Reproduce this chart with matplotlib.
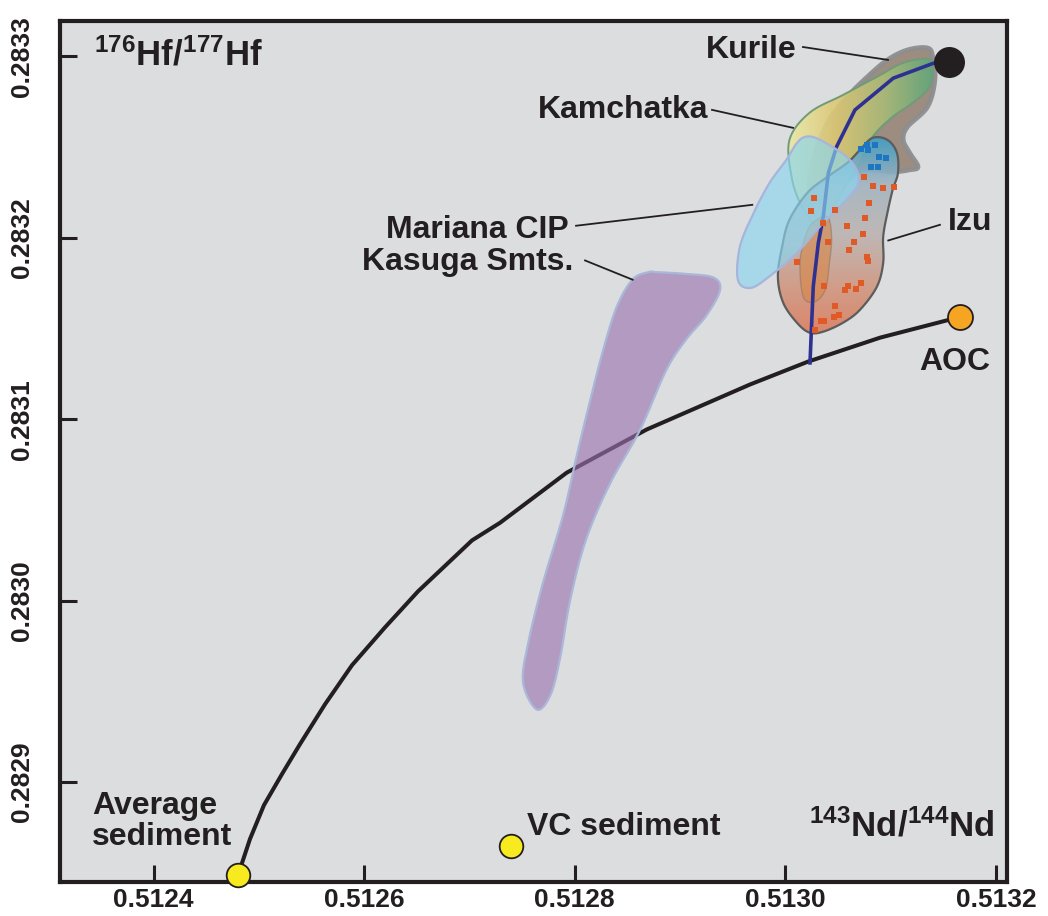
import numpy as np
import matplotlib
matplotlib.use("Agg")
import matplotlib.pyplot as plt
from matplotlib.patches import Polygon
from matplotlib.colors import LinearSegmentedColormap

# ---- data (143Nd/144Nd vs 176Hf/177Hf) ----
mixing_nd = [0.5124803, 0.5124916, 0.5125049, 0.5125220, 0.5125391, 0.5125629, 0.5125885,
             0.5126199, 0.5126512, 0.5127025, 0.5127291, 0.5127924, 0.5128684, 0.5129665,
             0.5130216, 0.5130900, 0.5131659]
mixing_hf = [0.2828488, 0.2828686, 0.2828873, 0.2829044, 0.2829209, 0.2829429, 0.2829644,
             0.2829853, 0.2830051, 0.2830332, 0.2830429, 0.2830705, 0.2830943, 0.2831191,
             0.2831317, 0.2831449, 0.2831563]

slab_nd = [0.5130235, 0.5130251, 0.5130266, 0.5130314, 0.5130361, 0.5130409, 0.5130488,
           0.5130662, 0.5131026, 0.5131406, 0.5131555]
slab_hf = [0.2831310, 0.2831532, 0.2831732, 0.2831971, 0.2832117, 0.2832356, 0.2832502,
           0.2832704, 0.2832879, 0.2832961, 0.2832968]

end_members = ["Average sediment", "VC sediment", "AOC", "Kurile"]
end_nd = [0.512480, 0.5127395, 0.513166, 0.5131555]
end_hf = [0.2828488, 0.2828648, 0.2831563, 0.2832968]

kasuga_nd = [0.512870, 0.512855, 0.512840, 0.512827, 0.512815, 0.512802, 0.512789, 0.512770,
             0.512756, 0.512751, 0.512764, 0.512777, 0.512786, 0.512796, 0.512811, 0.512834,
             0.512862, 0.512887, 0.512906, 0.512925, 0.512938, 0.512932, 0.512906, 0.512878]
kasuga_hf = [0.283181, 0.283177, 0.283162, 0.283138, 0.283111, 0.283080, 0.283047, 0.283010,
             0.282977, 0.282955, 0.282940, 0.282948, 0.282968, 0.283001, 0.283034, 0.283065,
             0.283094, 0.283127, 0.283144, 0.283157, 0.283171, 0.283178, 0.283180, 0.283181]

mariana_nd = [0.513020, 0.513033, 0.513058, 0.513069, 0.513068, 0.513055, 0.513033, 0.513011,
              0.512985, 0.512967, 0.512955, 0.512957, 0.512970, 0.512985, 0.513001, 0.513011]
mariana_hf = [0.2832557, 0.2832539, 0.2832447, 0.2832356, 0.2832282, 0.2832191, 0.2832062,
              0.2831916, 0.2831787, 0.2831723, 0.2831768, 0.2831952, 0.2832136, 0.2832301,
              0.2832429, 0.2832521]

kamchatka_nd = [0.513004, 0.513023, 0.513055, 0.513087, 0.513112, 0.513135, 0.513140, 0.513137,
                0.513121, 0.513102, 0.513083, 0.513071, 0.513055, 0.513042, 0.513036, 0.513026,
                0.513014, 0.513006]
kamchatka_hf = [0.2832539, 0.2832688, 0.2832787, 0.2832886, 0.2832963, 0.2832985, 0.2832941,
                0.2832831, 0.2832743, 0.2832666, 0.2832556, 0.2832413, 0.2832264, 0.2832115,
                0.2832055, 0.2832082, 0.2832192, 0.2832335]

kurile_nd = [0.513097, 0.513116, 0.513135, 0.513140, 0.513142, 0.513135, 0.513116, 0.513112,
             0.513118, 0.513126, 0.513118, 0.513102, 0.513083, 0.513068, 0.513045, 0.513030,
             0.513023, 0.513026, 0.513040, 0.513059, 0.513078]
kurile_hf = [0.2832979, 0.2833034, 0.2833045, 0.2832996, 0.2832869, 0.2832721, 0.2832611,
             0.2832539, 0.2832468, 0.2832391, 0.2832374, 0.2832363, 0.2832374, 0.2832357,
             0.2832225, 0.2832115, 0.2832225, 0.2832413, 0.2832633, 0.2832776, 0.2832886]

izu_nd = [0.513083, 0.513097, 0.513106, 0.513107, 0.513102, 0.513097, 0.513093, 0.513093,
          0.513087, 0.513071, 0.513055, 0.513036, 0.513023, 0.513011, 0.512998, 0.512993,
          0.512997, 0.513004, 0.513021, 0.513040, 0.513059, 0.513071]
izu_hf = [0.2832550, 0.2832539, 0.2832468, 0.2832356, 0.2832264, 0.2832137, 0.2832005, 0.2831862,
          0.2831730, 0.2831603, 0.2831532, 0.2831482, 0.2831477, 0.2831532, 0.2831642, 0.2831785,
          0.2831950, 0.2832099, 0.2832247, 0.2832335, 0.2832413, 0.2832484]

lobe_nd = [0.513026, 0.513040, 0.513044, 0.513042, 0.513038, 0.513028, 0.513017, 0.513014, 0.513019]
lobe_hf = [0.2832082, 0.2832115, 0.2832005, 0.2831862, 0.2831714, 0.2831647, 0.2831675,
           0.2831862, 0.2832005]

izu_blue_nd = [0.5130716, 0.5130779, 0.5130852, 0.5130789, 0.5130890, 0.5130957, 0.5130811, 0.5130883]
izu_blue_hf = [0.2832488, 0.2832512, 0.2832508, 0.2832484, 0.2832442, 0.2832438, 0.2832392, 0.2832389]

izu_red_nd = [0.5130748, 0.5130836, 0.5130931, 0.5131033, 0.5130273, 0.5130241, 0.5130469,
              0.5130798, 0.5130355, 0.5130754, 0.5130583, 0.5130735, 0.5130653, 0.5130403,
              0.5130608, 0.5130773, 0.5130789, 0.5130109, 0.5130371, 0.5130593, 0.5130570,
              0.5130672, 0.5130716, 0.5130475, 0.5130510, 0.5130460, 0.5130339, 0.5130368,
              0.5130282]
izu_red_hf = [0.2832337, 0.2832286, 0.2832273, 0.2832282, 0.2832218, 0.2832148, 0.2832154,
              0.2832191, 0.2832081, 0.2832106, 0.2832062, 0.2832022, 0.2831978, 0.2831978,
              0.2831934, 0.2831893, 0.2831869, 0.2831864, 0.2831732, 0.2831736, 0.2831714,
              0.2831719, 0.2831750, 0.2831625, 0.2831572, 0.2831563, 0.2831543, 0.2831543,
              0.2831493]

x_ticks = [0.5124, 0.5126, 0.5128, 0.5130, 0.5132]
y_ticks = [0.2829, 0.2830, 0.2831, 0.2832, 0.2833]

INK = "#231f20"
FONT = ["Liberation Sans", "DejaVu Sans"]
plt.rcParams["font.family"] = FONT
plt.rcParams["mathtext.fontset"] = "custom"
plt.rcParams["mathtext.rm"] = "Liberation Sans:bold"
plt.rcParams["mathtext.bf"] = "Liberation Sans:bold"
plt.rcParams["mathtext.it"] = "Liberation Sans:bold"


def smooth_closed(xs, ys, n=16):
    # closed Catmull-Rom outline through the read points
    p = np.column_stack([xs, ys])
    m = len(p)
    t = np.linspace(0, 1, n, endpoint=False)[:, None]
    segs = []
    for i in range(m):
        p0, p1, p2, p3 = p[i - 1], p[i], p[(i + 1) % m], p[(i + 2) % m]
        segs.append(0.5 * (2 * p1 + (-p0 + p2) * t + (2 * p0 - 5 * p1 + 4 * p2 - p3) * t ** 2
                           + (-p0 + 3 * p1 - 3 * p2 + p3) * t ** 3))
    return np.vstack(segs)


def gradient_field(ax, verts, colors, vertical, alpha, z, edge, lw):
    clip = Polygon(verts, closed=True, facecolor="none", edgecolor="none", zorder=z)
    ax.add_patch(clip)
    cmap = LinearSegmentedColormap.from_list("g", colors)
    g = np.linspace(0, 1, 256)
    arr = g[:, None] if vertical else g[None, :]
    im = ax.imshow(arr, cmap=cmap, origin="lower", aspect="auto", alpha=alpha, zorder=z,
                   extent=(verts[:, 0].min(), verts[:, 0].max(), verts[:, 1].min(), verts[:, 1].max()),
                   interpolation="bilinear")
    im.set_clip_path(clip)
    ax.add_patch(Polygon(verts, closed=True, facecolor="none", edgecolor=edge, lw=lw, zorder=z + 0.1))


fig = plt.figure(figsize=(10.48, 9.16), dpi=100)
ax = fig.add_axes([60 / 1048, 34 / 916, 946.7 / 1048, 861 / 916])
ax.set_facecolor("#dcdddf")

# mixing curve sediment -> AOC
ax.plot(mixing_nd, mixing_hf, color=INK, lw=2.9, zorder=2, solid_capstyle="round")

# Kasuga seamounts field
ax.add_patch(Polygon(smooth_closed(kasuga_nd, kasuga_hf), closed=True, facecolor="#9b71b0",
                     alpha=0.62, edgecolor="none", zorder=3))
ax.add_patch(Polygon(smooth_closed(kasuga_nd, kasuga_hf), closed=True, facecolor="none",
                     edgecolor="#a9b7d8", lw=1.6, zorder=3.1))

# Kurile field
kur = smooth_closed(kurile_nd, kurile_hf)
ax.add_patch(Polygon(kur, closed=True, facecolor="#9a887b", edgecolor="#8e8e8e", lw=3.5,
                     alpha=0.95, zorder=3.5))

# Kamchatka field (yellow -> green)
gradient_field(ax, smooth_closed(kamchatka_nd, kamchatka_hf),
               ["#ebe8a6", "#dcc873", "#a9bb78", "#5ea67b"], False, 0.9, 4, "#6e9c78", 1.4)

# Izu field (blue top -> orange bottom)
gradient_field(ax, smooth_closed(izu_nd, izu_hf),
               ["#dc7c5c", "#cf9882", "#bcb3b1", "#a2b4bf", "#3c9fc8"], True, 0.9, 5, "#5c5c5c", 1.6)
ax.add_patch(Polygon(smooth_closed(lobe_nd, lobe_hf), closed=True, facecolor="#d9823d", alpha=0.55,
                     edgecolor="#8c7766", lw=1.0, zorder=5.5))

# slab component line
ax.plot(slab_nd, slab_hf, color="#2e3192", lw=2.6, zorder=6)

# Mariana CIP field (translucent, over the line)
mar = smooth_closed(mariana_nd, mariana_hf)
ax.add_patch(Polygon(mar, closed=True, facecolor="#8ad6f0", alpha=0.66, edgecolor="none", zorder=7))
ax.add_patch(Polygon(mar, closed=True, facecolor="none", edgecolor="#a7b5dc", lw=1.6, zorder=7.1))

# Izu samples
ax.plot(izu_red_nd, izu_red_hf, ls="none", marker="s", ms=4.6, mew=0, color="#e05a28", zorder=8)
ax.plot(izu_blue_nd, izu_blue_hf, ls="none", marker="s", ms=4.6, mew=0, color="#1d76c2", zorder=8)

# end members
em_face = ["#f7ea1e", "#f7ea1e", "#f6a523", INK]
em_size = [17, 17, 18, 21]
for nd, hf, fc, ms in zip(end_nd, end_hf, em_face, em_size):
    ax.plot(nd, hf, marker="o", ms=ms, mfc=fc, mec=INK, mew=1.3, ls="none", zorder=12, clip_on=False)

ax.set_xlim(0.5123112, 0.5132103)
ax.set_ylim(0.28284496, 0.2833194)
ax.set_xticks(x_ticks)
ax.set_yticks(y_ticks)
ax.set_xticklabels([f"{v:.4f}" for v in x_ticks], fontweight="bold", fontsize=19)
ax.set_yticklabels([f"{v:.4f}" for v in y_ticks], fontweight="bold", fontsize=19,
                   rotation=90, va="center")
ax.tick_params(axis="x", direction="in", length=12, width=2.2, color=INK, pad=4, labelcolor=INK)
ax.tick_params(axis="y", direction="in", length=12, width=2.2, color=INK, pad=19, labelcolor=INK)
for s in ax.spines.values():
    s.set_linewidth(3)
    s.set_color(INK)
    s.set_zorder(10)

# labels
T = ax.transAxes
lab = dict(transform=T, fontweight="bold", color=INK, zorder=11)
ax.text(0.036, 0.949, r"$^{176}$Hf/$^{177}$Hf", fontsize=25, **lab)
ax.text(0.9876, 0.0534, r"$^{143}$Nd/$^{144}$Nd", fontsize=25, ha="right", **lab)
ax.text(0.034, 0.043, "Average\nsediment", fontsize=23, linespacing=1.05, **lab)
ax.text(0.493, 0.0545, "VC sediment", fontsize=23, **lab)
ax.text(0.682, 0.957, "Kurile", fontsize=23, **lab)
ax.text(0.505, 0.8875, "Kamchatka", fontsize=23, **lab)
ax.text(0.344, 0.748, "Mariana CIP", fontsize=23, **lab)
ax.text(0.319, 0.711, "Kasuga Smts.", fontsize=23, **lab)
ax.text(0.938, 0.757, "Izu", fontsize=23, **lab)
ax.text(0.908, 0.595, "AOC", fontsize=23, **lab)

# leader lines
leaders = [((0.7848, 0.8746), (0.9698, 0.9548)),
           ((0.6887, 0.7743), (0.8968, 0.8759)),
           ((0.5451, 0.7313), (0.7622, 0.7865)),
           ((0.5546, 0.6049), (0.7219, 0.6995)),
           ((0.9295, 0.8749), (0.7633, 0.7451))]
for xs, ys in leaders:
    ax.plot(xs, ys, transform=T, color=INK, lw=1.3, zorder=11)

fig.savefig("out.png", dpi=100, facecolor="white")
